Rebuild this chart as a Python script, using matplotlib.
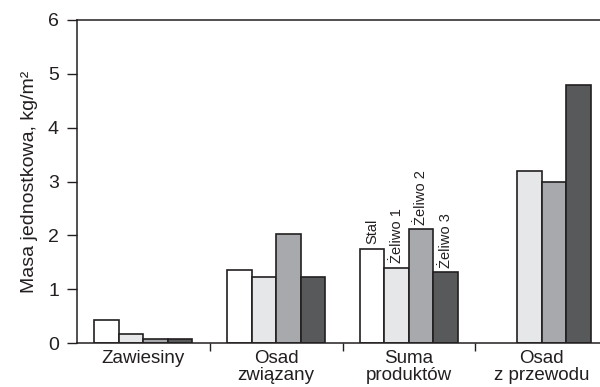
import matplotlib
matplotlib.use("Agg")
import matplotlib.pyplot as plt
import numpy as np

plt.rcParams['font.family'] = ['Liberation Sans', 'DejaVu Sans']

categories = ["Zawiesiny", "Osad\nzwiązany", "Suma\nproduktów", "Osad\nz przewodu"]
series_names = ["Stal", "Żeliwo 1", "Żeliwo 2", "Żeliwo 3"]
stal = [0.42, 1.35, 1.75, np.nan]
zeliwo1 = [0.17, 1.22, 1.40, 3.20]
zeliwo2 = [0.08, 2.03, 2.12, 3.00]
zeliwo3 = [0.08, 1.22, 1.32, 4.80]
series = [stal, zeliwo1, zeliwo2, zeliwo3]
colors = ["#ffffff", "#e6e7e8", "#a7a9ac", "#58595b"]
edge = "#231f20"

fig = plt.figure(figsize=(6, 3.87), dpi=100)
ax = fig.add_axes([77/600, 1-343/387, 531/600, 323/387])

x = np.arange(len(categories))
w = 0.185
offsets = (np.arange(4) - 1.5) * w
for s, vals, c, off in zip(series_names, series, colors, offsets):
    ax.bar(x + off, vals, w, color=c, edgecolor=edge, linewidth=1.2, zorder=2)

# labels above "Suma produktów" bars
gi = 2
for vals, off, name in zip(series, offsets, series_names):
    v = vals[gi]
    ax.text(x[gi] + off, v + 0.08, name, rotation=90, ha='center', va='bottom',
            fontsize=10.5, color='#231f20')

ax.set_xlim(-0.5, 3.5)
ax.set_ylim(0, 6)
ax.set_yticks(range(7))
ax.tick_params(axis='y', labelsize=14, direction='out', length=7, width=1, color=edge,
               pad=6, labelcolor='#231f20')
ax.set_xticks(x)
ax.set_xticklabels(categories, fontsize=13.5, linespacing=1.0, color='#231f20')
ax.tick_params(axis='x', which='major', length=0, pad=5)
ax.set_xticks([0.5, 1.5, 2.5], minor=True)
ax.tick_params(axis='x', which='minor', direction='out', length=6, width=1, color=edge)
ax.set_ylabel("Masa jednostkowa, kg/m²", fontsize=14, color='#231f20', labelpad=7)
for sp in ax.spines.values():
    sp.set_color(edge)
    sp.set_linewidth(1.1)

fig.savefig("out.png", dpi=100)
